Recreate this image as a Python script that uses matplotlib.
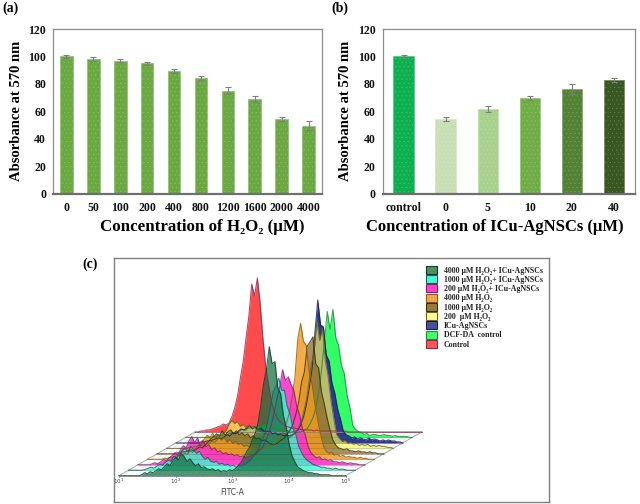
import matplotlib
matplotlib.use("Agg")
import matplotlib.pyplot as plt
import numpy as np
from matplotlib.patches import Patch, Polygon
from matplotlib.colors import to_rgb

plt.rcParams['font.family'] = ['Liberation Serif', 'DejaVu Serif']
plt.rcParams['font.weight'] = 'bold'
plt.rcParams['mathtext.default'] = 'regular'
plt.rcParams['hatch.linewidth'] = 0.3

# ---------- data: panel (a) ----------
a_labels = ['0', '50', '100', '200', '400', '800', '1200', '1600', '2000', '4000']
a_values = [100, 98, 97, 95, 89.5, 84, 75, 69, 54.5, 49.5]
a_errors = [1.3, 1.3, 1.1, 1.0, 1.4, 1.4, 2.6, 2.4, 1.4, 3.2]

# ---------- data: panel (b) ----------
b_labels = ['control', '0', '5', '10', '20', '40']
b_values = [100, 54.5, 61.5, 69.5, 76.5, 83]
b_errors = [1.2, 1.3, 2.2, 1.4, 3.6, 1.3]
b_colors = ['#0DB04F', '#C8E0B4', '#A9D18E', '#70AD47', '#548235', '#385723']

# ---------- data: panel (c), counts read on a log-FITC grid (decades above 10^1, step 0.05) ----------
fitc_decades = [k * 0.05 for k in range(81)]
control = [0,0,1,1,2,2,3,4,5,6,8,7,9,15,24,36,54,70,94,116,
           148,136,154,128,92,64,46,30,20,14,10,8,6,5,4,4,3,3,2,2,
           2,2,1,2,1,1,1,1,1,1,1,1,0,1,0,0,0,0,0,0,
           0,0,0,0,0,0,0,0,0,0,0,0,0,0,0,0,0,0,0,0, 0]
dcf_da = [0,0,0,0,0,0,0,0,0,0,1,1,2,2,3,3,4,5,4,6,
          8,7,9,10,11,10,12,11,13,10,9,10,8,7,8,6,7,5,6,5,
          5,6,7,9,14,20,30,46,68,96,126,108,128,100,92,72,64,42,30,12,
          8,6,5,3,4,2,3,3,2,2,3,2,2,1,2,1,1,1,1,0, 0]
icu = [0,0,0,0,0,0,0,0,0,1,1,2,2,3,4,5,4,6,8,7,
       10,9,12,14,13,15,17,14,16,13,15,12,11,12,9,10,8,9,7,8,
       7,8,10,13,18,26,38,55,74,110,143,118,116,88,82,60,50,34,24,12,
       8,7,5,6,4,5,4,3,5,3,4,3,2,3,2,3,2,2,1,1, 0]
h2o2_200 = [0,0,0,0,0,0,0,0,1,1,2,2,3,3,4,5,7,6,9,12,
            15,18,24,28,25,27,22,24,21,23,20,21,19,17,16,14,13,12,11,10,
            9,8,9,10,12,14,18,24,32,44,60,84,94,128,108,120,88,72,48,30,
            14,10,7,8,5,6,4,5,3,4,3,4,2,3,2,3,2,2,1,1, 0]
h2o2_1000 = [0,0,0,0,0,0,0,1,1,2,2,3,4,3,5,7,6,9,12,15,
             17,20,18,23,19,22,24,20,23,19,21,18,20,16,18,15,16,13,14,12,
             10,9,10,12,14,16,20,24,30,40,52,72,82,108,112,117,90,86,62,50,
             36,24,14,9,6,5,4,5,3,3,2,3,2,2,1,2,1,1,0,0, 0]
h2o2_4000 = [0,0,0,0,0,0,1,1,2,2,3,4,3,6,5,8,7,11,14,18,
             20,24,22,26,21,25,19,22,17,20,16,18,15,16,13,14,12,13,11,12,
             10,11,12,13,14,16,18,22,28,36,46,62,82,120,136,118,114,88,76,56,
             40,26,14,8,6,7,4,5,3,4,2,3,2,2,1,2,1,1,0,0, 0]
combo_200 = [0,0,0,0,0,1,2,1,3,5,4,7,9,12,10,15,19,17,24,28,
             22,27,19,24,18,20,15,17,13,14,11,12,10,11,9,10,8,9,7,8,
             9,10,12,15,18,24,30,40,52,66,78,95,84,88,80,74,58,50,36,30,
             18,12,9,7,8,5,6,4,5,3,3,2,3,2,1,2,1,1,0,0, 0]
combo_1000 = [0,0,0,0,0,0,1,2,3,2,4,6,5,8,10,9,14,12,16,20,
              22,18,24,20,17,19,14,11,13,9,8,9,6,7,5,6,4,5,3,5,
              4,6,8,10,14,18,22,30,36,48,62,78,84,92,80,80,64,56,42,36,
              24,18,13,10,8,6,5,4,3,3,2,2,1,2,1,1,1,0,0,0, 0]
combo_4000 = [0,0,0,0,0,0,0,0,1,3,2,4,3,5,7,6,9,12,10,15,
              18,16,22,19,14,17,13,10,12,8,9,7,6,7,5,6,4,5,4,6,
              5,7,10,13,18,24,28,36,42,52,70,92,106,129,112,114,88,82,60,48,
              32,20,14,9,7,5,4,3,3,2,2,1,1,1,1,0,0,0,0,0, 0]

# back to front
layers = [control, dcf_da, icu, h2o2_200, h2o2_1000, h2o2_4000, combo_200, combo_1000, combo_4000]
layer_names = ['Control', 'DCF-DA  control', 'ICu-AgNSCs', '200  µM H₂O₂', '1000 µM H₂O₂',
               '4000 µM H₂O₂', '200 µM H₂O₂+ ICu-AgNSCs', '1000 µM H₂O₂+ ICu-AgNSCs',
               '4000 µM H₂O₂+ ICu-AgNSCs']
layer_colors = ['#FF4B4B', '#33FF66', '#2C3A90', '#F5F560', '#8A6420', '#F09A20', '#FF33CC', '#33FFCC', '#0F6E3C']
layer_edges = ['#8A2A55', '#1E8A3A', '#141E5A', '#6A6A10', '#3E2E08', '#8A5A10', '#8A1A70', '#1A5A70', '#0E3A28']
layer_alpha = [1, 1, 1, 0.7, 0.72, 0.82, 0.9, 0.78, 0.72]
swatch_colors = ['#FF5555', '#44FF66', '#4A5298', '#FFFF99', '#9B7B3C', '#F0A850', '#FF44CC', '#44FFCC', '#4F9060']
fitc_ticks = ['$10^{1}$', '$10^{2}$', '$10^{3}$', '$10^{4}$', '$10^{5}$']

W, H = 640, 504
fig = plt.figure(figsize=(W / 100, H / 100), dpi=100, facecolor='white')


def box(l, t, r, b):
    return fig.add_axes([l / W, 1 - b / H, (r - l) / W, (b - t) / H])


def lighten(c, f):
    r = np.array(to_rgb(c))
    return tuple(r + (1 - r) * f)


def bars(ax, labels, values, errors, colors, width):
    x = np.arange(len(labels))
    ax.bar(x, values, width, color=colors, edgecolor=[lighten(c, 0.3) for c in colors], linewidth=0.6)
    for xi, v, c in zip(x, values, colors):
        ax.bar(xi, v, width, color='none', edgecolor=lighten(c, 0.22), hatch='....', linewidth=0)
    ax.errorbar(x, values, yerr=errors, fmt='none', ecolor='#7F7F7F', elinewidth=0.8, capsize=2, capthick=0.8)
    ax.set_xlim(-0.5, len(labels) - 0.5)
    ax.set_ylim(0, 120)
    ax.set_yticks(range(0, 121, 20))
    ax.set_xticks(x)
    ax.set_xticklabels(labels)
    ax.tick_params(axis='both', length=0, labelsize=8.5, pad=6, labelcolor='#111111')
    ax.tick_params(axis='y', pad=5)
    for s in ax.spines.values():
        s.set_color('#8C8C8C')
        s.set_linewidth(0.9)
    ax.spines['bottom'].set_linewidth(1.6)
    ax.spines['bottom'].set_color('#6E6E6E')
    ax.set_ylabel('Absorbance at 570 nm', fontsize=10.5, fontweight='bold', labelpad=4)


ax_a = box(53, 29, 322, 193.5)
bars(ax_a, a_labels, a_values, a_errors, ['#6AA842'] * len(a_labels), 0.47)
ax_b = box(382.7, 29, 635, 193.5)
bars(ax_b, b_labels, b_values, b_errors, b_colors, 0.49)

fig.text(202 / W, 1 - 227 / H, 'Concentration of H₂O₂ (µM)', fontsize=12.2, ha='center', va='center')
fig.text(494.5 / W, 1 - 227 / H, 'Concentration of ICu-AgNSCs (µM)', fontsize=12, ha='center', va='center')
fig.text(2 / W, 1 - 8 / H, '(a)', fontsize=10, va='center')
fig.text(331 / W, 1 - 8 / H, '(b)', fontsize=10, va='center')
fig.text(82 / W, 1 - 264 / H, '(c)', fontsize=10, va='center')

# ---------- panel (c) ----------
ax_c = box(114, 258, 549, 502)
decade_px = 56.7
ax_c.set_xlim((114 - 119) / decade_px, (549 - 119) / decade_px)
ax_c.set_ylim(-(502 - 475.7), 475.7 - 258)
ax_c.set_xticks([])
ax_c.set_yticks([])
for s in ax_c.spines.values():
    s.set_color('#808080')
    s.set_linewidth(1.0)

n = len(layers)
dx = (76 / 8) / decade_px
dy = 43.7 / 8
back_x, back_y = dx * (n - 1), dy * (n - 1)
floor = Polygon([(0, 0), (4, 0), (4 + back_x, back_y), (back_x, back_y)], closed=True,
                facecolor='white', edgecolor='#D4D4D4', hatch='//////', linewidth=0)
ax_c.add_patch(floor)
ax_c.plot([0, back_x], [0, back_y], color='#A8A8A8', lw=0.7)
ax_c.plot([4, 4 + back_x], [0, back_y], color='#A8A8A8', lw=0.7)
ax_c.plot([back_x, back_x + 4], [back_y, back_y], color='#B89090', lw=0.7)

xs = np.array(fitc_decades)
for i, (vals, col, edge, al) in enumerate(zip(layers, layer_colors, layer_edges, layer_alpha)):
    ox, oy = dx * (n - 1 - i), dy * (n - 1 - i)
    ys = np.array(vals, dtype=float)
    ax_c.plot([ox, ox + 4], [oy, oy], color=edge, lw=0.5, alpha=0.35)
    ax_c.fill_between(xs + ox, oy, ys + oy, color=col, alpha=al, linewidth=0)
    ax_c.plot(xs + ox, ys + oy, color=edge, lw=0.8, alpha=0.8)

ax_c.plot([0, 4], [0, 0], color='#909090', lw=0.7)
for k, lab in enumerate(fitc_ticks):
    ax_c.plot([k, k], [0, -1.5], color='#707070', lw=0.5)
    ax_c.text(k, -6, lab, fontsize=4, ha='center', va='center', color='#444444',
              family='DejaVu Sans', fontweight='normal')
ax_c.text(2.0, -16.5, 'FITC-A', fontsize=5.5, ha='center', va='center', color='#444444',
          family='DejaVu Sans', fontweight='normal')

handles = [Patch(facecolor=c, edgecolor=e, linewidth=0.8)
           for c, e in zip(swatch_colors[::-1], layer_edges[::-1])]
ax_c.legend(handles, layer_names[::-1], loc='upper left', bbox_to_anchor=((425.7 - 114) / 435, 1 - (266 - 258) / 244),
            frameon=False, fontsize=5.7, borderpad=0, borderaxespad=0, labelspacing=0.08,
            handlelength=1.45, handleheight=1.15, handletextpad=0.8, labelcolor='#222222')

fig.savefig('out.png', dpi=100, facecolor='white')
